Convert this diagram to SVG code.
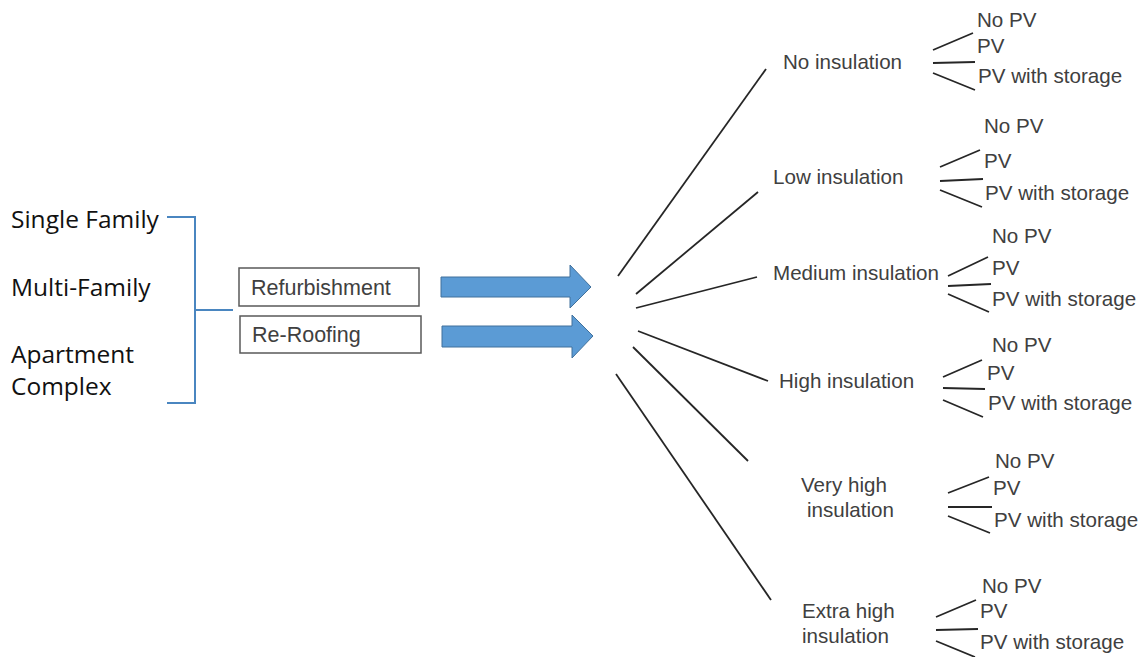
<svg xmlns="http://www.w3.org/2000/svg" width="1143" height="657" viewBox="0 0 1143 657">
<style>
.lt{font-family:"Open Sans","Liberation Sans",sans-serif;font-size:24.5px;fill:#111}
.bt{font-family:"Liberation Sans",Arial,sans-serif;font-size:21.5px;fill:#404040}
.t{font-family:"Liberation Sans",Arial,sans-serif;font-size:20.6px;fill:#404040}
.box{fill:#fff;stroke:#595959;stroke-width:1.5}
.br{fill:none;stroke:#4a86c0;stroke-width:2}
.ar{fill:#5b9bd5;stroke:#41719c;stroke-width:1}
.ln{stroke:#262626;stroke-width:1.8;fill:none}
</style>
<rect width="1143" height="657" fill="#fff"/>
<g id="building-types">
<text class="lt" x="11" y="228">Single Family</text>
<text class="lt" x="11" y="296">Multi-Family</text>
<text class="lt" x="11" y="363">Apartment</text>
<text class="lt" x="11" y="395">Complex</text>
</g>
<g id="bracket">
<path class="br" d="M167 217 H195 V403 H167 M195 310 H233"/>
</g>
<g id="refurbishment">
<rect class="box" x="239" y="268" width="180" height="38"/>
<text class="bt" x="251" y="295">Refurbishment</text>
</g>
<g id="re-roofing">
<rect class="box" x="240" y="316" width="181" height="37"/>
<text class="bt" x="252" y="342">Re-Roofing</text>
</g>
<g id="arrows">
<path class="ar" d="M441 277 H570 V265 L591 287 L570 308 V297 H441 Z"/>
<path class="ar" d="M442 326 H572 V315 L593 336 L572 358 V347 H442 Z"/>
</g>
<g id="connectors">
<line class="ln" x1="618" y1="276" x2="766" y2="69"/>
<line class="ln" x1="636" y1="294" x2="758" y2="192"/>
<line class="ln" x1="636" y1="308" x2="757" y2="277"/>
<line class="ln" x1="638" y1="331" x2="768" y2="381"/>
<line class="ln" x1="633" y1="347" x2="748" y2="461"/>
<line class="ln" x1="616" y1="374" x2="771" y2="600"/>
<path class="ln" d="M933 50 L973 33 M933 63 L975 62 M933 73 L975 90"/>
<path class="ln" d="M940 167 L980 150 M940 181 L983 179 M940 190 L982 207"/>
<path class="ln" d="M948 276 L988 257 M948 286 L991 284 M948 294 L989 312"/>
<path class="ln" d="M943 377 L982 360 M943 388 L985 389 M943 400 L983 417"/>
<path class="ln" d="M948 493 L989 477 M948 507 L992 507 M948 516 L990 533"/>
<path class="ln" d="M936 617 L976 600 M936 630 L978 629 M936 641 L975 657"/>
</g>
<g id="no-insulation">
<text class="t" x="783" y="69">No insulation</text>
<text class="t" x="977" y="27">No PV</text>
<text class="t" x="977" y="53">PV</text>
<text class="t" x="978" y="83">PV with storage</text>
</g>
<g id="low-insulation">
<text class="t" x="773" y="184">Low insulation</text>
<text class="t" x="984" y="133">No PV</text>
<text class="t" x="984" y="168">PV</text>
<text class="t" x="985" y="200">PV with storage</text>
</g>
<g id="medium-insulation">
<text class="t" x="773" y="280">Medium insulation</text>
<text class="t" x="992" y="243">No PV</text>
<text class="t" x="992" y="275">PV</text>
<text class="t" x="992" y="306">PV with storage</text>
</g>
<g id="high-insulation">
<text class="t" x="779" y="388">High insulation</text>
<text class="t" x="992" y="352">No PV</text>
<text class="t" x="987" y="380">PV</text>
<text class="t" x="988" y="410">PV with storage</text>
</g>
<g id="very-high-insulation">
<text class="t" x="801" y="492">Very high</text>
<text class="t" x="807" y="517">insulation</text>
<text class="t" x="995" y="468">No PV</text>
<text class="t" x="993" y="495">PV</text>
<text class="t" x="994" y="527">PV with storage</text>
</g>
<g id="extra-high-insulation">
<text class="t" x="802" y="618">Extra high</text>
<text class="t" x="802" y="643">insulation</text>
<text class="t" x="982" y="593">No PV</text>
<text class="t" x="980" y="618">PV</text>
<text class="t" x="980" y="649">PV with storage</text>
</g>
</svg>
